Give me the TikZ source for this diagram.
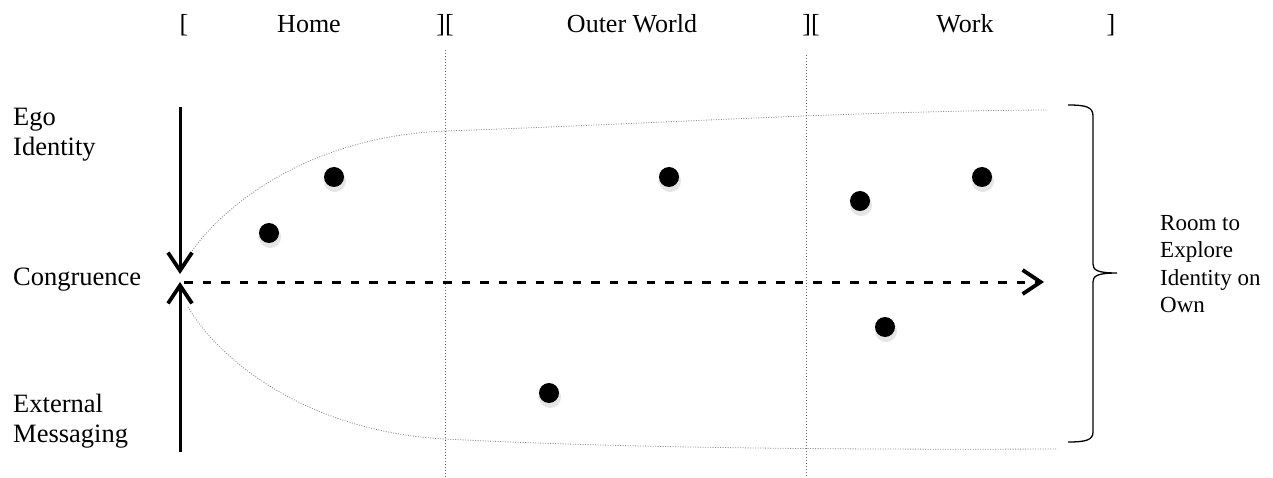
\documentclass[tikz,border=0pt]{standalone}
\usepackage{fontspec}
\setmainfont{Liberation Serif}
\usetikzlibrary{arrows.meta}
\begin{document}
\begin{tikzpicture}[x=1pt,y=-1pt,
  lbl/.style={font=\fontsize{26.5}{30}\selectfont, inner sep=0pt, anchor=base west},
  toplbl/.style={font=\fontsize{26}{30}\selectfont, inner sep=0pt, anchor=base},
  rlbl/.style={font=\fontsize{23}{27}\selectfont, inner sep=0pt, anchor=base west},
  dotnode/.style={circle, fill=black, minimum size=20pt, inner sep=0pt},
  shadownode/.style={circle, fill=black, opacity=0.10, minimum size=22pt, inner sep=0pt},
  divider/.style={draw=black!60, line width=0.8pt, dash pattern=on 1pt off 2pt},
  envelope/.style={draw=black!45, line width=0.8pt, dash pattern=on 1pt off 1.5pt},
  barb/.style={-{Straight Barb[length=18pt,width=24pt,line width=3.8pt]}, line width=3pt},
  bracepath/.style={draw=black, line width=1.3pt},
]
\useasboundingbox (0,0) rectangle (1273,478);

% top labels
\node[toplbl] (b0) at (184,33) {[};
\node[toplbl] (home) at (309,33) {Home};
\node[toplbl] (b1) at (445,33) {][};
\node[toplbl] (outer) at (632,33) {Outer World};
\node[toplbl] (b2) at (811,33) {][};
\node[toplbl] (work) at (965,33) {Work};
\node[toplbl] (b3) at (1111,33) {]};

% dividers
\coordinate (d1t) at (445,50);
\coordinate (d1b) at (445,478);
\coordinate (d2t) at (806,55);
\coordinate (d2b) at (806,478);
\draw[divider] (d1t) -- (d1b);
\draw[divider] (d2t) -- (d2b);

% left labels
\node[lbl] (ego) at (13,126) {Ego};
\node[lbl] (ident) at (13,156) {Identity};
\node[lbl] (cong) at (13,285) {Congruence};
\node[lbl] (ext) at (13,412) {External};
\node[lbl] (mess) at (13,442) {Messaging};

% right labels
\node[rlbl] (r1) at (1160,231) {Room to};
\node[rlbl] (r2) at (1160,258) {Explore};
\node[rlbl] (r3) at (1160,285) {Identity on};
\node[rlbl] (r4) at (1160,312) {Own};

% envelope curves
\draw[envelope] (188,257) .. controls (215,214) and (300,137) .. (445,131)
  .. controls (650,124) and (850,111) .. (1048,110);
\draw[envelope] (188,307) .. controls (215,354) and (300,431) .. (445,439)
  .. controls (600,447) and (800,450) .. (1056,449);

% arrows
\coordinate (vtop) at (180,107);
\coordinate (vmid1) at (180,274);
\coordinate (vbot) at (180,452);
\coordinate (vmid2) at (180,282);
\coordinate (hstart) at (184,282);
\coordinate (hend) at (1044,282);
\draw[barb] (vtop) -- (vmid1);
\draw[barb] (vbot) -- (vmid2);
\draw[barb, dash pattern=on 8.5pt off 10pt] (hstart) -- (hend);

% dots
\foreach \n/\x/\y in {p1/269/233, p2/334/177, p3/669/177, p4/549/393, p5/860/201, p6/982/177, p7/885/327}{
  \node[shadownode] at (\x+1,\y+4) {};
  \node[dotnode] (\n) at (\x,\y) {};
}

% brace
\draw[bracepath] (1068,105) .. controls (1086,105) and (1093,107) .. (1093,116)
  -- (1093,264) .. controls (1093,270) and (1097,273) .. (1117,273)
  .. controls (1097,273) and (1093,276) .. (1093,282)
  -- (1093,432) .. controls (1093,440) and (1086,442) .. (1068,442);
\end{tikzpicture}
\end{document}
